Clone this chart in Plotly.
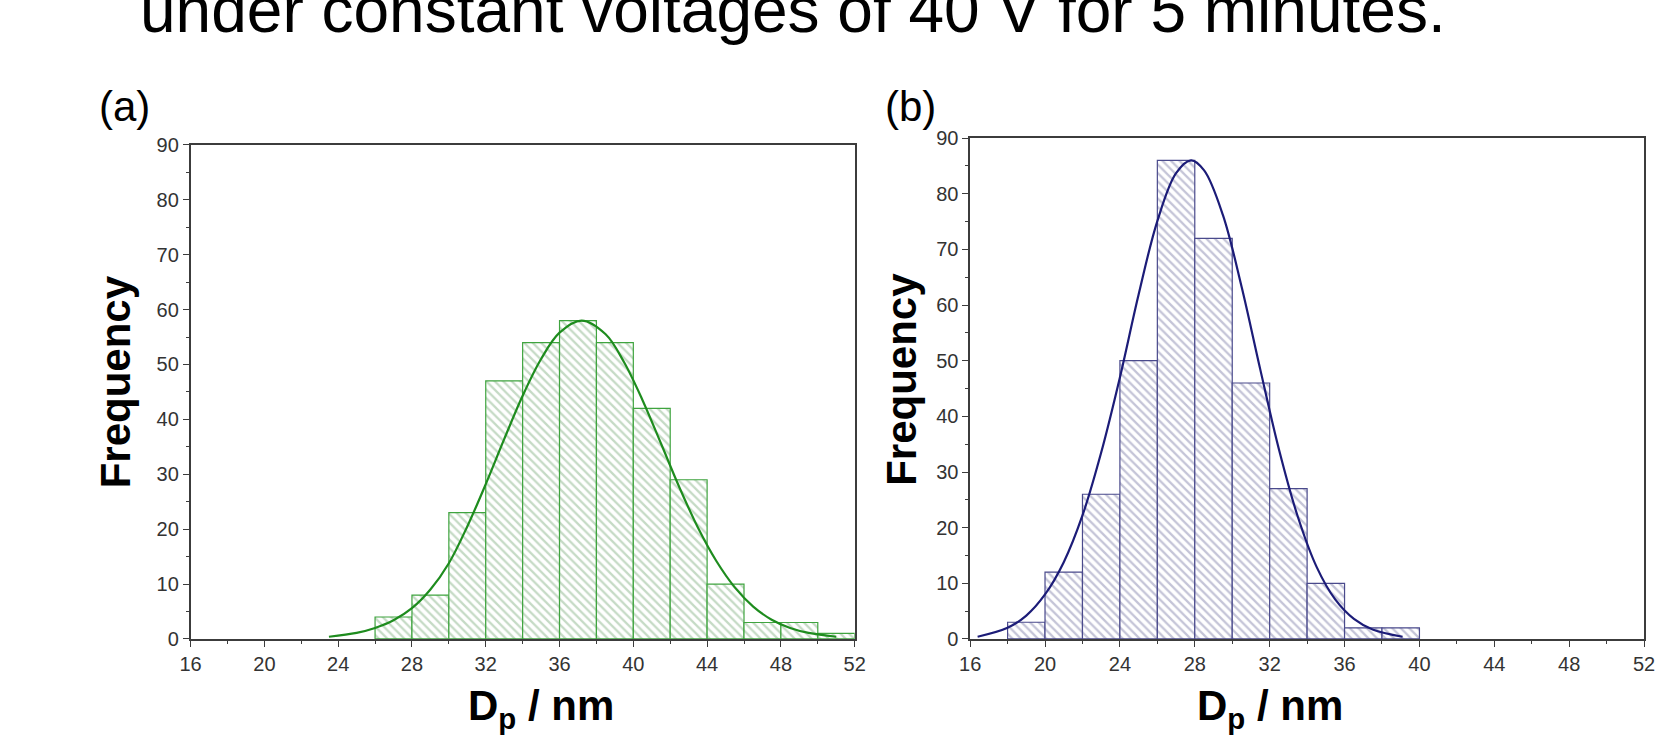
import plotly.graph_objects as go

# ---------------- data ----------------
# Panel (a): histogram of particle diameters, bin width 2 nm (bin centres)
bins_a = [27, 29, 31, 33, 35, 37, 39, 41, 43, 45, 47, 49, 51]
counts_a = [4, 8, 23, 47, 54, 58, 54, 42, 29, 10, 3, 3, 1]
# fitted curve (a)
fit_x_a = [23.5, 25, 26, 27, 28, 29, 30, 31, 32, 33, 34, 35, 36, 37.2,
           38.5, 39.5, 40.5, 41.5, 42.5, 43.5, 44.5, 45.5, 46.5, 47.5, 48.5, 49.5, 51]
fit_y_a = [0.4, 1.1, 2.0, 3.4, 5.6, 9.0, 13.8, 20.5, 28.2, 36.4, 44.3, 51.0, 55.8, 58.0,
           55.5, 50.4, 43.5, 35.6, 27.6, 20.3, 14.2, 9.4, 5.9, 3.5, 2.0, 1.1, 0.4]

# Panel (b)
bins_b = [19, 21, 23, 25, 27, 29, 31, 33, 35, 37, 39]
counts_b = [3, 12, 26, 50, 86, 72, 46, 27, 10, 2, 2]
fit_x_b = [16.4, 18, 19, 20, 21, 22, 23, 24, 25, 26, 27, 27.8,
           28.5, 29.5, 30.5, 31.5, 32.5, 33.5, 34.5, 35.5, 36.5, 37.5, 39.1]
fit_y_b = [0.4, 2.0, 4.2, 8.0, 13.8, 22.2, 33.5, 47.0, 61.9, 75.1, 83.7, 86.0,
           84.2, 76.2, 63.3, 48.4, 34.0, 22.0, 13.0, 7.1, 3.6, 1.7, 0.4]

x_range = [16, 52]
y_range = [0, 90]
title_text = "under constant voltages of 40 V for 5 minutes."
panel_labels = ["(a)", "(b)"]
y_title = "Frequency"
x_title = "<b>D<sub>p</sub> / nm</b>"

# ---------------- layout helpers ----------------
W, H = 1662, 747
def px(xp):
    return xp / W
def py(yp):
    return (H - yp) / H

green_edge = "#3fa43f"
green_hatch = "#8cb68c"
green_line = "#1e8c1e"
blue_edge = "#4a4a8c"
blue_hatch = "#8a8ab0"
blue_line = "#1c1c78"
axis_col = "#3c3c3c"
tick_font = dict(family="Liberation Sans, Arial, sans-serif", size=20, color="#333333")

fig = go.Figure()

fig.add_trace(go.Bar(
    x=bins_a, y=counts_a, width=2, xaxis="x", yaxis="y",
    marker=dict(color="white", line=dict(color=green_edge, width=1.2),
                pattern=dict(shape="\\", fgcolor=green_hatch, bgcolor="white",
                             size=6, solidity=0.38)),
    showlegend=False, hoverinfo="x+y"))
fig.add_trace(go.Scatter(
    x=fit_x_a, y=fit_y_a, mode="lines", line=dict(color=green_line, width=2.2, shape="spline"),
    xaxis="x", yaxis="y", showlegend=False))

fig.add_trace(go.Bar(
    x=bins_b, y=counts_b, width=2, xaxis="x2", yaxis="y2",
    marker=dict(color="white", line=dict(color=blue_edge, width=1.2),
                pattern=dict(shape="\\", fgcolor=blue_hatch, bgcolor="white",
                             size=6, solidity=0.38)),
    showlegend=False, hoverinfo="x+y"))
fig.add_trace(go.Scatter(
    x=fit_x_b, y=fit_y_b, mode="lines", line=dict(color=blue_line, width=2.2, shape="spline"),
    xaxis="x2", yaxis="y2", showlegend=False))

def xax(domain, anchor):
    return dict(domain=domain, anchor=anchor, range=x_range, tick0=16, dtick=4,
                showline=True, linecolor=axis_col, linewidth=1.5, mirror=True,
                ticks="outside", ticklen=6, tickwidth=1.3, tickcolor=axis_col,
                minor=dict(dtick=2, tick0=16, ticks="outside", ticklen=3, tickcolor=axis_col, tickwidth=1.1),
                showgrid=False, zeroline=False, tickfont=tick_font, fixedrange=True)

def yax(domain, anchor):
    return dict(domain=domain, anchor=anchor, range=y_range, tick0=0, dtick=10,
                showline=True, linecolor=axis_col, linewidth=1.5, mirror=True,
                ticks="outside", ticklen=6, tickwidth=1.3, tickcolor=axis_col,
                minor=dict(dtick=5, tick0=0, ticks="outside", ticklen=3, tickcolor=axis_col, tickwidth=1.1),
                showgrid=False, zeroline=False, tickfont=tick_font, fixedrange=True)

fig.update_layout(
    width=W, height=H, margin=dict(l=0, r=0, t=0, b=0),
    paper_bgcolor="white", plot_bgcolor="white", barmode="overlay",
    xaxis=xax([px(182), px(855)], "y"),
    yaxis=yax([py(647), py(138)], "x"),
    xaxis2=xax([px(972), px(1655)], "y2"),
    yaxis2=yax([py(647), py(131)], "x2"),
)

font_main = "Liberation Sans, Arial, sans-serif"
ann = []
ann.append(dict(text=title_text, x=px(792), y=py(-1), xref="paper", yref="paper",
                xanchor="center", yanchor="middle", showarrow=False,
                font=dict(family=font_main, size=64, color="black")))
for lbl, cx in zip(panel_labels, [115, 912]):
    ann.append(dict(text=lbl, x=px(cx), y=py(98), xref="paper", yref="paper",
                    xanchor="center", yanchor="middle", showarrow=False,
                    font=dict(family=font_main, size=42, color="black")))
for cx, cy in [(106, 382), (903, 380)]:
    ann.append(dict(text="<b>" + y_title + "</b>", x=px(cx), y=py(cy), xref="paper", yref="paper",
                    xanchor="center", yanchor="middle", textangle=-90, showarrow=False,
                    font=dict(family=font_main, size=42, color="black")))
for cx in [537, 1276]:
    ann.append(dict(text=x_title, x=px(cx), y=py(719), xref="paper", yref="paper",
                    xanchor="center", yanchor="middle", showarrow=False,
                    font=dict(family=font_main, size=42, color="black")))
fig.update_layout(annotations=ann)

fig.write_html("out.html", config={"displayModeBar": False},
               post_script="document.body.style.margin='0';document.body.style.overflow='hidden';")
